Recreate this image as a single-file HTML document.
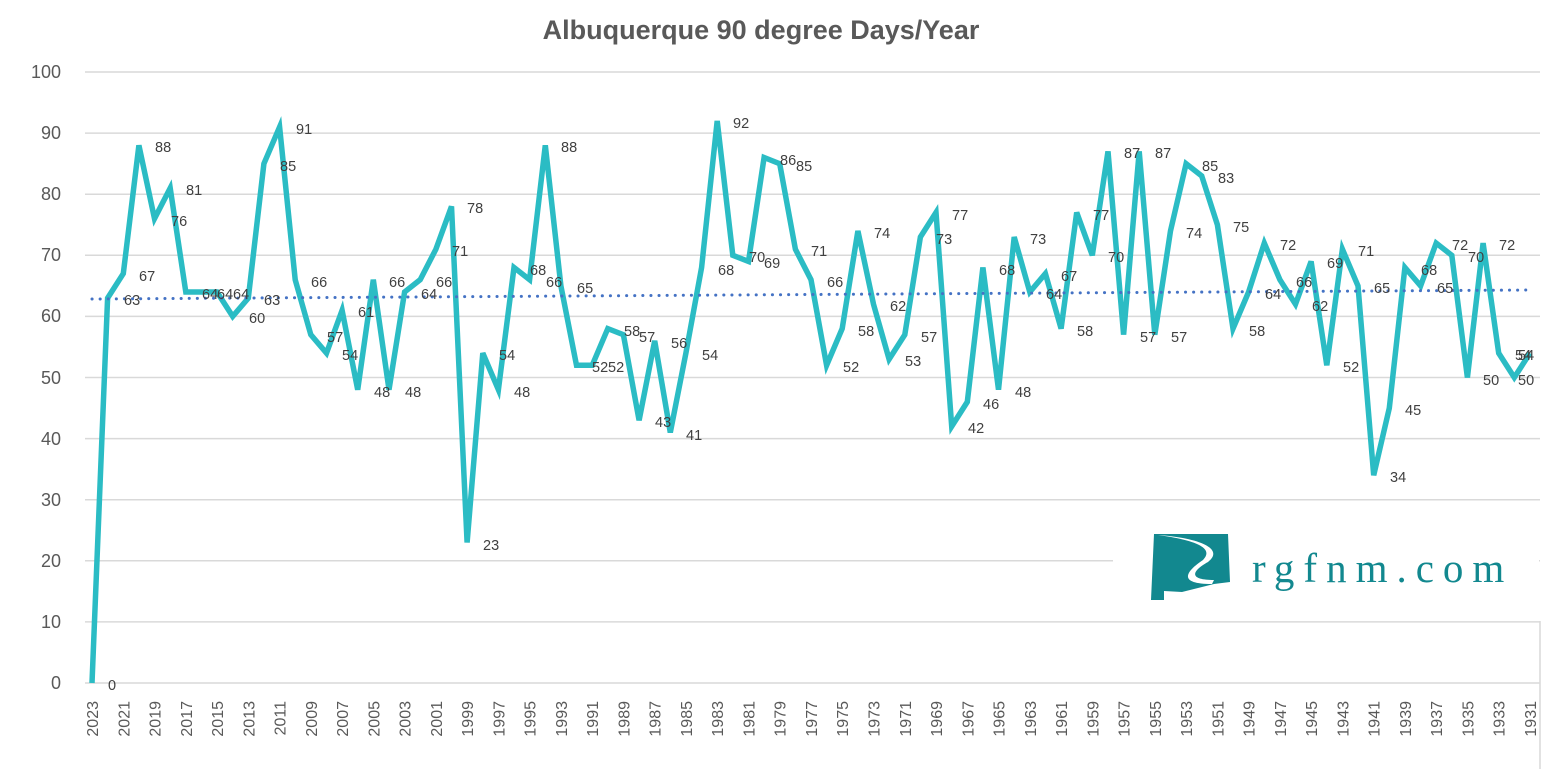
<!DOCTYPE html>
<html><head><meta charset="utf-8"><style>body{margin:0;background:#fff}svg{display:block}</style></head><body>
<svg width="1542" height="769" xmlns="http://www.w3.org/2000/svg" font-family="Liberation Sans, sans-serif">
<rect width="1542" height="769" fill="#fff"/>
<text x="761" y="39" text-anchor="middle" font-size="27" font-weight="bold" fill="#595959">Albuquerque 90 degree Days/Year</text>
<g stroke="#d9d9d9" stroke-width="1.5">
<line x1="85" y1="683" x2="1540" y2="683"/><line x1="85" y1="621.9" x2="1540" y2="621.9"/><line x1="85" y1="560.8" x2="1540" y2="560.8"/><line x1="85" y1="499.7" x2="1540" y2="499.7"/><line x1="85" y1="438.6" x2="1540" y2="438.6"/><line x1="85" y1="377.5" x2="1540" y2="377.5"/><line x1="85" y1="316.4" x2="1540" y2="316.4"/><line x1="85" y1="255.3" x2="1540" y2="255.3"/><line x1="85" y1="194.2" x2="1540" y2="194.2"/><line x1="85" y1="133.1" x2="1540" y2="133.1"/><line x1="85" y1="72" x2="1540" y2="72"/>
</g>
<g font-size="18" fill="#595959" text-anchor="end">
<text x="61" y="689">0</text><text x="61" y="628">10</text><text x="61" y="567">20</text><text x="61" y="506">30</text><text x="61" y="445">40</text><text x="61" y="384">50</text><text x="61" y="322">60</text><text x="61" y="261">70</text><text x="61" y="200">80</text><text x="61" y="139">90</text><text x="61" y="78">100</text>
</g>
<polyline fill="none" stroke="#2bbcc4" stroke-width="5.5" stroke-linejoin="miter" points="92,683 107.6,298.1 123.3,273.6 138.9,145.3 154.5,218.6 170.2,188.1 185.8,292 201.4,292 217,292 232.7,316.4 248.3,298.1 263.9,163.7 279.6,127 295.2,279.7 310.8,334.7 326.5,353.1 342.1,310.3 357.7,389.7 373.3,279.7 389,389.7 404.6,292 420.2,279.7 435.9,249.2 451.5,206.4 467.1,542.5 482.8,353.1 498.4,389.7 514,267.5 529.6,279.7 545.3,145.3 560.9,285.9 576.5,365.3 592.2,365.3 607.8,328.6 623.4,334.7 639.1,420.3 654.7,340.8 670.3,432.5 685.9,353.1 701.6,267.5 717.2,120.9 732.8,255.3 748.5,261.4 764.1,157.5 779.7,163.7 795.4,249.2 811,279.7 826.6,365.3 842.2,328.6 857.9,230.9 873.5,304.2 889.1,359.2 904.8,334.7 920.4,237 936,212.5 951.7,426.4 967.3,401.9 982.9,267.5 998.5,389.7 1014.2,237 1029.8,292 1045.4,273.6 1061.1,328.6 1076.7,212.5 1092.3,255.3 1108,151.4 1123.6,334.7 1139.2,151.4 1154.8,334.7 1170.5,230.9 1186.1,163.7 1201.7,175.9 1217.4,224.8 1233,328.6 1248.6,292 1264.3,243.1 1279.9,279.7 1295.5,304.2 1311.1,261.4 1326.8,365.3 1342.4,249.2 1358,285.9 1373.7,475.3 1389.3,408.1 1404.9,267.5 1420.6,285.9 1436.2,243.1 1451.8,255.3 1467.4,377.5 1483.1,243.1 1498.7,353.1 1514.3,377.5 1530,353.1"/>
<line x1="92" y1="299" x2="1530" y2="290" stroke="#4472c4" stroke-width="3" stroke-dasharray="0.1 8" stroke-linecap="round"/>
<g font-size="14.5" fill="#404040">
<text x="108" y="690">0</text><text x="124" y="305">63</text><text x="139" y="281">67</text><text x="155" y="152">88</text><text x="171" y="226">76</text><text x="186" y="195">81</text><text x="202" y="299">64</text><text x="217" y="299">64</text><text x="233" y="299">64</text><text x="249" y="323">60</text><text x="264" y="305">63</text><text x="280" y="171">85</text><text x="296" y="134">91</text><text x="311" y="287">66</text><text x="327" y="342">57</text><text x="342" y="360">54</text><text x="358" y="317">61</text><text x="374" y="397">48</text><text x="389" y="287">66</text><text x="405" y="397">48</text><text x="421" y="299">64</text><text x="436" y="287">66</text><text x="452" y="256">71</text><text x="467" y="213">78</text><text x="483" y="550">23</text><text x="499" y="360">54</text><text x="514" y="397">48</text><text x="530" y="275">68</text><text x="546" y="287">66</text><text x="561" y="152">88</text><text x="577" y="293">65</text><text x="592" y="372">52</text><text x="608" y="372">52</text><text x="624" y="336">58</text><text x="639" y="342">57</text><text x="655" y="427">43</text><text x="671" y="348">56</text><text x="686" y="440">41</text><text x="702" y="360">54</text><text x="718" y="275">68</text><text x="733" y="128">92</text><text x="749" y="262">70</text><text x="764" y="268">69</text><text x="780" y="165">86</text><text x="796" y="171">85</text><text x="811" y="256">71</text><text x="827" y="287">66</text><text x="843" y="372">52</text><text x="858" y="336">58</text><text x="874" y="238">74</text><text x="890" y="311">62</text><text x="905" y="366">53</text><text x="921" y="342">57</text><text x="936" y="244">73</text><text x="952" y="220">77</text><text x="968" y="433">42</text><text x="983" y="409">46</text><text x="999" y="275">68</text><text x="1015" y="397">48</text><text x="1030" y="244">73</text><text x="1046" y="299">64</text><text x="1061" y="281">67</text><text x="1077" y="336">58</text><text x="1093" y="220">77</text><text x="1108" y="262">70</text><text x="1124" y="158">87</text><text x="1140" y="342">57</text><text x="1155" y="158">87</text><text x="1171" y="342">57</text><text x="1186" y="238">74</text><text x="1202" y="171">85</text><text x="1218" y="183">83</text><text x="1233" y="232">75</text><text x="1249" y="336">58</text><text x="1265" y="299">64</text><text x="1280" y="250">72</text><text x="1296" y="287">66</text><text x="1312" y="311">62</text><text x="1327" y="268">69</text><text x="1343" y="372">52</text><text x="1358" y="256">71</text><text x="1374" y="293">65</text><text x="1390" y="482">34</text><text x="1405" y="415">45</text><text x="1421" y="275">68</text><text x="1437" y="293">65</text><text x="1452" y="250">72</text><text x="1468" y="262">70</text><text x="1483" y="385">50</text><text x="1499" y="250">72</text><text x="1515" y="360">54</text><text x="1518" y="385">50</text><text x="1518" y="360">54</text>
</g>
<rect x="1113" y="528" width="426" height="89" fill="#fff"/>
<line x1="1540" y1="621" x2="1540" y2="769" stroke="#d9d9d9" stroke-width="1.5"/>
<path d="M1154,534 L1228,534 L1230,582 L1214,584 L1182,592 L1164,591 L1164,600 L1151,600 Z" fill="#12888f"/>
<path d="M1158,535 C1195,540 1215,548 1203,560 C1185,572 1178,584 1212,584 L1214,580 C1190,580 1190,572 1208,562 C1225,549 1200,538 1158,535 Z" fill="#fff"/>
<text x="1252" y="582" font-family="Liberation Serif, serif" font-size="41" letter-spacing="9" fill="#12888f">rgfnm.com</text>
<g font-size="16" fill="#595959" text-anchor="end">
<text transform="translate(98,701) rotate(-90)">2023</text><text transform="translate(129.3,701) rotate(-90)">2021</text><text transform="translate(160.5,701) rotate(-90)">2019</text><text transform="translate(191.8,701) rotate(-90)">2017</text><text transform="translate(223,701) rotate(-90)">2015</text><text transform="translate(254.3,701) rotate(-90)">2013</text><text transform="translate(285.6,701) rotate(-90)">2011</text><text transform="translate(316.8,701) rotate(-90)">2009</text><text transform="translate(348.1,701) rotate(-90)">2007</text><text transform="translate(379.3,701) rotate(-90)">2005</text><text transform="translate(410.6,701) rotate(-90)">2003</text><text transform="translate(441.9,701) rotate(-90)">2001</text><text transform="translate(473.1,701) rotate(-90)">1999</text><text transform="translate(504.4,701) rotate(-90)">1997</text><text transform="translate(535.6,701) rotate(-90)">1995</text><text transform="translate(566.9,701) rotate(-90)">1993</text><text transform="translate(598.2,701) rotate(-90)">1991</text><text transform="translate(629.4,701) rotate(-90)">1989</text><text transform="translate(660.7,701) rotate(-90)">1987</text><text transform="translate(691.9,701) rotate(-90)">1985</text><text transform="translate(723.2,701) rotate(-90)">1983</text><text transform="translate(754.5,701) rotate(-90)">1981</text><text transform="translate(785.7,701) rotate(-90)">1979</text><text transform="translate(817,701) rotate(-90)">1977</text><text transform="translate(848.2,701) rotate(-90)">1975</text><text transform="translate(879.5,701) rotate(-90)">1973</text><text transform="translate(910.8,701) rotate(-90)">1971</text><text transform="translate(942,701) rotate(-90)">1969</text><text transform="translate(973.3,701) rotate(-90)">1967</text><text transform="translate(1004.5,701) rotate(-90)">1965</text><text transform="translate(1035.8,701) rotate(-90)">1963</text><text transform="translate(1067.1,701) rotate(-90)">1961</text><text transform="translate(1098.3,701) rotate(-90)">1959</text><text transform="translate(1129.6,701) rotate(-90)">1957</text><text transform="translate(1160.8,701) rotate(-90)">1955</text><text transform="translate(1192.1,701) rotate(-90)">1953</text><text transform="translate(1223.4,701) rotate(-90)">1951</text><text transform="translate(1254.6,701) rotate(-90)">1949</text><text transform="translate(1285.9,701) rotate(-90)">1947</text><text transform="translate(1317.1,701) rotate(-90)">1945</text><text transform="translate(1348.4,701) rotate(-90)">1943</text><text transform="translate(1379.7,701) rotate(-90)">1941</text><text transform="translate(1410.9,701) rotate(-90)">1939</text><text transform="translate(1442.2,701) rotate(-90)">1937</text><text transform="translate(1473.4,701) rotate(-90)">1935</text><text transform="translate(1504.7,701) rotate(-90)">1933</text><text transform="translate(1536,701) rotate(-90)">1931</text>
</g>
</svg>
</body></html>
